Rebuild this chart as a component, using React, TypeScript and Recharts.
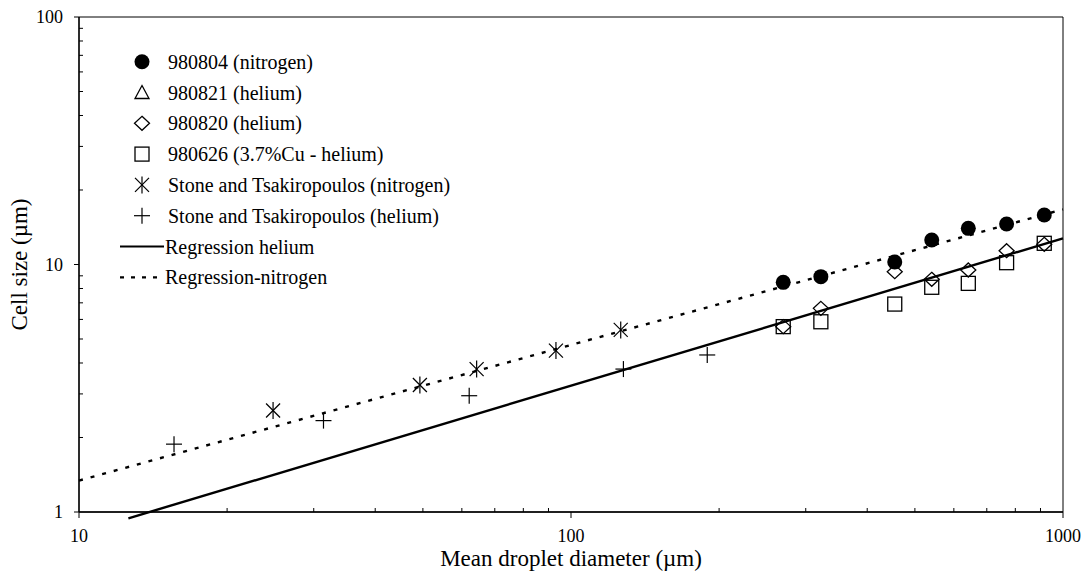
import React from 'react';
import {
  ScatterChart,
  Scatter,
  XAxis,
  YAxis,
  ReferenceLine,
  ReferenceArea,
  Legend,
} from 'recharts';

// ---- data ----
const diameters = [270, 322, 455, 541, 642, 768, 916];
const cell980804 = [8.47, 8.93, 10.23, 12.56, 14.0, 14.57, 15.85];
const cell980821: number[] = [];
const cell980820 = [5.61, 6.65, 9.35, 8.71, 9.5, 11.37, 12.07];
const cell980626 = [5.61, 5.87, 6.92, 8.09, 8.39, 10.17, 12.18];

const stoneNitrogenX = [24.8, 49.3, 64.3, 93.2, 126.2];
const stoneNitrogenY = [2.57, 3.26, 3.78, 4.49, 5.44];
const stoneHeliumX = [15.6, 31.4, 62.1, 127.8, 189.2];
const stoneHeliumY = [1.88, 2.34, 2.95, 3.78, 4.31];

const regressionHelium = [
  { x: 12.6, y: 0.943 },
  { x: 1000, y: 12.76 },
];
const regressionNitrogen = [
  { x: 10, y: 1.34 },
  { x: 1000, y: 16.7 },
];

const xMajorTicks = [10, 100, 1000];
const xAllTicks = [
  10, 20, 30, 40, 50, 60, 70, 80, 90, 100, 200, 300, 400, 500, 600, 700, 800,
  900, 1000,
];
const yMajorTicks = [1, 10, 100];
const yAllTicks = [
  1, 2, 3, 4, 5, 6, 7, 8, 9, 10, 20, 30, 40, 50, 60, 70, 80, 90, 100,
];

const seriesLabels = [
  '980804 (nitrogen)',
  '980821 (helium)',
  '980820 (helium)',
  '980626 (3.7%Cu - helium)',
  'Stone and Tsakiropoulos (nitrogen)',
  'Stone and Tsakiropoulos (helium)',
  'Regression helium',
  'Regression-nitrogen',
];
const xTitle = 'Mean droplet diameter (µm)';
const yTitle = 'Cell size (µm)';

const zip = (xs: number[], ys: number[]) => ys.map((y, i) => ({ x: xs[i], y }));

const FONT = '"Liberation Serif", "Times New Roman", serif';
const txtStyle = (size: number): React.CSSProperties => ({ fontFamily: FONT, fontSize: size, fill: '#000' });

// ---- marker shapes ----
const SW = 1.3;
const DotShape = ({ cx, cy }: any) => <circle cx={cx} cy={cy} r={7.5} fill="#000" />;
const TriShape = ({ cx, cy }: any) => (
  <polygon
    points={`${cx},${cy - 7} ${cx + 7},${cy + 6} ${cx - 7},${cy + 6}`}
    fill="none"
    stroke="#000"
    strokeWidth={SW}
  />
);
const DiaShape = ({ cx, cy }: any) => (
  <polygon
    points={`${cx},${cy - 7} ${cx + 7.5},${cy} ${cx},${cy + 7} ${cx - 7.5},${cy}`}
    fill="none"
    stroke="#000"
    strokeWidth={SW}
  />
);
const SqShape = ({ cx, cy }: any) => (
  <rect x={cx - 7} y={cy - 7} width={14} height={14} fill="none" stroke="#000" strokeWidth={SW} />
);
const StarShape = ({ cx, cy }: any) => (
  <g stroke="#000" strokeWidth={1.2}>
    <line x1={cx - 7} y1={cy - 7} x2={cx + 7} y2={cy + 7} />
    <line x1={cx - 7} y1={cy + 7} x2={cx + 7} y2={cy - 7} />
    <line x1={cx} y1={cy - 8.5} x2={cx} y2={cy + 8.5} />
  </g>
);
const PlusShape = ({ cx, cy }: any) => (
  <g stroke="#000" strokeWidth={1.2}>
    <line x1={cx - 8} y1={cy} x2={cx + 8} y2={cy} />
    <line x1={cx} y1={cy - 8} x2={cx} y2={cy + 8} />
  </g>
);

const shapes = [DotShape, TriShape, DiaShape, SqShape, StarShape, PlusShape];

// ---- ticks ----
const XTick = (props: any) => {
  const { x, y, payload } = props;
  const v = payload.value;
  const major = xMajorTicks.includes(v);
  return (
    <g>
      {major ? (
        <line x1={x} x2={x} y1={y} y2={y + 6} stroke="#000" strokeWidth={1} />
      ) : (
        <line x1={x} x2={x} y1={y} y2={y - 4} stroke="#000" strokeWidth={1} />
      )}
      {major && (
        <text x={x} y={y + 30} textAnchor="middle" style={txtStyle(18)}>
          {v}
        </text>
      )}
    </g>
  );
};

const YTick = (props: any) => {
  const { x, y, payload } = props;
  const v = payload.value;
  const major = yMajorTicks.includes(v);
  return (
    <g>
      {major ? (
        <line x1={x - 5} x2={x} y1={y} y2={y} stroke="#000" strokeWidth={1} />
      ) : (
        <line x1={x} x2={x + 4} y1={y} y2={y} stroke="#000" strokeWidth={1} />
      )}
      {major && (
        <text x={x - 16} y={y} textAnchor="end" dominantBaseline="central" style={txtStyle(18)}>
          {v}
        </text>
      )}
    </g>
  );
};

// ---- legend ----
const LegendBox = () => {
  const rowH = 30.8;
  const y0 = 17.7;
  return (
    <svg width={400} height={260} style={{ display: 'block', overflow: 'visible' }}>
      {seriesLabels.map((label, i) => {
        const cy = y0 + i * rowH;
        let icon: React.ReactNode;
        if (i < 6) {
          const S = shapes[i];
          icon = <S cx={34} cy={cy} />;
        } else if (i === 6) {
          icon = <line x1={12} x2={56} y1={cy} y2={cy} stroke="#000" strokeWidth={2.2} />;
        } else {
          icon = (
            <line x1={12} x2={56} y1={cy} y2={cy} stroke="#000" strokeWidth={2.2} strokeDasharray="4 7" />
          );
        }
        return (
          <g key={label}>
            {icon}
            <text x={i < 6 ? 60 : 57} y={cy} dominantBaseline="central" style={txtStyle(20)}>
              {label}
            </text>
          </g>
        );
      })}
    </svg>
  );
};

const W = 1080;
const H = 565;

export default function App() {
  return (
    <div style={{ width: W, height: H, background: '#fff' }}>
      <ScatterChart width={W} height={H} margin={{ top: 9, right: 25, left: 0, bottom: 0 }}>
        <XAxis
          type="number"
          dataKey="x"
          scale="log"
          domain={[10, 1000]}
          allowDataOverflow
          ticks={xAllTicks}
          interval={0}
          tick={<XTick />}
          tickLine={false}
          tickSize={0}
          tickMargin={0}
          height={61}
          axisLine={{ stroke: '#000', strokeWidth: 1.3 }}
          label={{
            value: xTitle,
            position: 'insideBottom',
            offset: 7,
            style: txtStyle(23),
          }}
        />
        <YAxis
          type="number"
          dataKey="y"
          scale="log"
          domain={[1, 100]}
          allowDataOverflow
          ticks={yAllTicks}
          interval={0}
          tick={<YTick />}
          tickLine={false}
          tickSize={0}
          tickMargin={0}
          width={71}
          axisLine={{ stroke: '#000', strokeWidth: 1.3 }}
          label={{
            value: yTitle,
            angle: -90,
            position: 'insideLeft',
            offset: 11,
            style: { ...txtStyle(23), textAnchor: 'middle' },
          }}
        />
        <ReferenceArea x1={10} x2={1000} y1={1} y2={100} fill="none" fillOpacity={0} stroke="#000" strokeWidth={1} ifOverflow="visible" />
        <ReferenceLine segment={regressionHelium} ifOverflow="visible" stroke="#000" strokeWidth={2.4} />
        <ReferenceLine segment={regressionNitrogen} ifOverflow="visible" stroke="#000" strokeWidth={2.4} strokeDasharray="4 8" />
        <Scatter name={seriesLabels[0]} data={zip(diameters, cell980804)} shape={(p: any) => <DotShape {...p} />} isAnimationActive={false} />
        <Scatter name={seriesLabels[1]} data={zip(diameters, cell980821)} shape={(p: any) => <TriShape {...p} />} isAnimationActive={false} />
        <Scatter name={seriesLabels[2]} data={zip(diameters, cell980820)} shape={(p: any) => <DiaShape {...p} />} isAnimationActive={false} />
        <Scatter name={seriesLabels[3]} data={zip(diameters, cell980626)} shape={(p: any) => <SqShape {...p} />} isAnimationActive={false} />
        <Scatter name={seriesLabels[4]} data={zip(stoneNitrogenX, stoneNitrogenY)} shape={(p: any) => <StarShape {...p} />} isAnimationActive={false} />
        <Scatter name={seriesLabels[5]} data={zip(stoneHeliumX, stoneHeliumY)} shape={(p: any) => <PlusShape {...p} />} isAnimationActive={false} />
        <Legend
          layout="horizontal"
          verticalAlign="middle"
          align="center"
          content={() => <LegendBox />}
          wrapperStyle={{ left: 100, top: 36, width: 400, height: 260 }}
        />
      </ScatterChart>
    </div>
  );
}
